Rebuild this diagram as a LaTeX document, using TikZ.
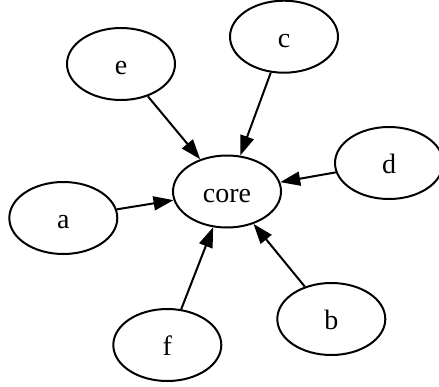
\documentclass[tikz,border=0pt]{standalone}
\usepackage{fontspec}
\setmainfont{Liberation Serif}
\usetikzlibrary{arrows.meta,shapes.geometric}
\begin{document}
\begin{tikzpicture}[x=0.5pt,y=-0.5pt,
  vertex/.style={draw,line width=1pt,ellipse,inner sep=0pt,
    minimum width=54pt,minimum height=36pt,
    font=\fontsize{14}{16.8}\selectfont,text height=10.5pt,text depth=0pt},
  edge/.style={line width=1pt,-{Triangle[length=10pt,width=7pt]}}]
\useasboundingbox (0,0) rectangle (439,386);
% nodes (positions in pixel units, y downward)
\node[vertex] (core) at (227,191.5) {core};
\node[vertex] (e) at (121,64) {e};
\node[vertex] (c) at (284,36.7) {c};
\node[vertex] (d) at (389,163) {d};
\node[vertex] (a) at (63.3,218) {a};
\node[vertex] (b) at (331.3,319) {b};
\node[vertex] (f) at (167.3,345) {f};
% every leaf points at the hub
\foreach \v in {e,c,d,a,b,f}
  \draw[edge] (\v) -- (core);
\end{tikzpicture}
\end{document}
